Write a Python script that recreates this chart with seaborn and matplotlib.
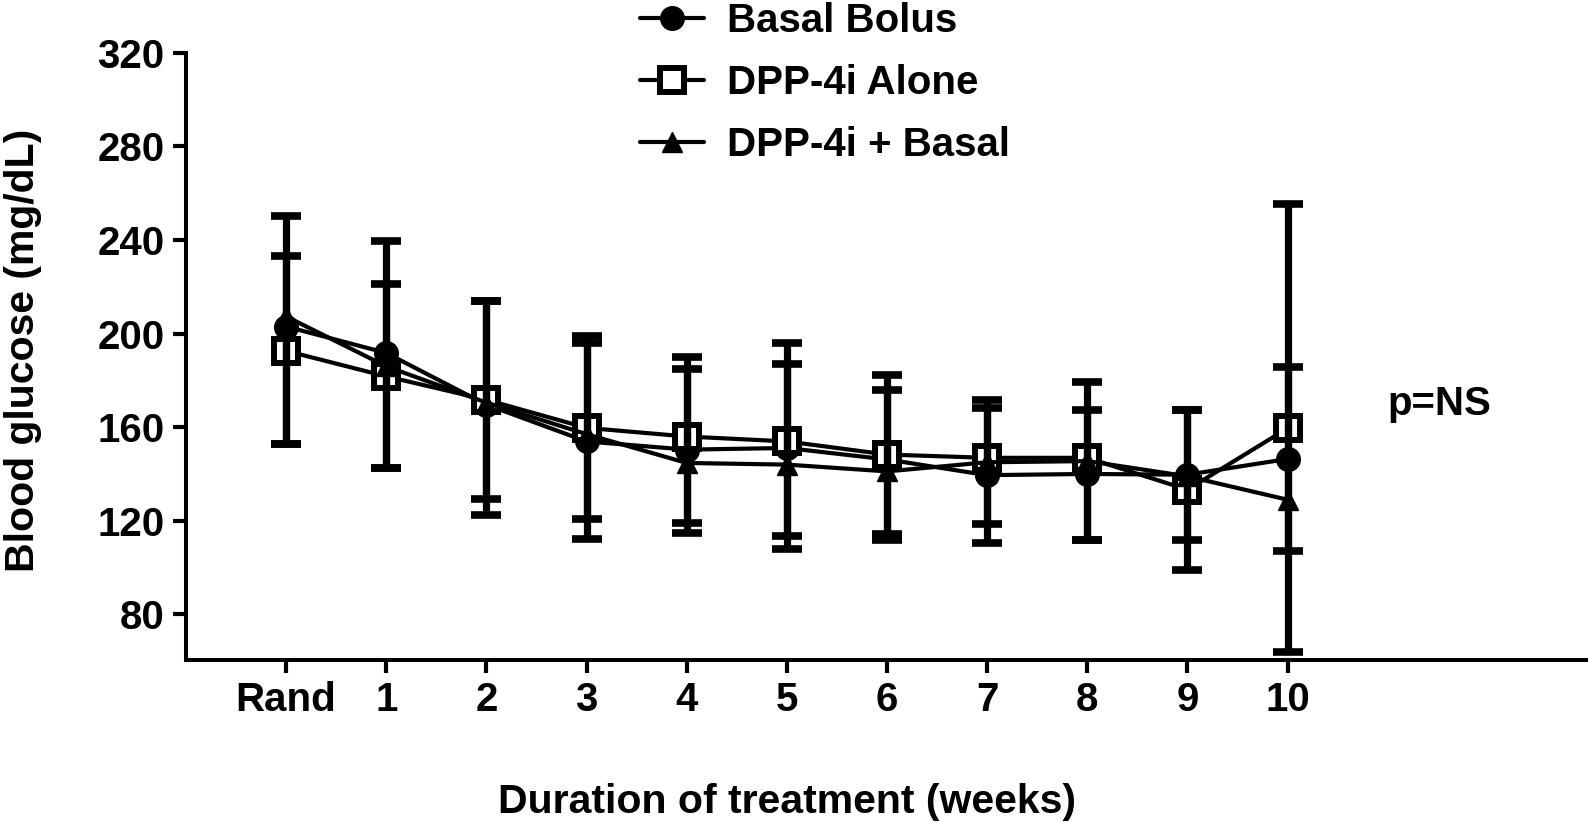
import numpy as np
import pandas as pd
import matplotlib
matplotlib.use("Agg")
import matplotlib.pyplot as plt
import seaborn as sns

# data
weeks = ["Rand", "1", "2", "3", "4", "5", "6", "7", "8", "9", "10"]
groups = ["Basal Bolus", "DPP-4i Alone", "DPP-4i + Basal"]

basal_bolus = [203.0, 191.7, 169.6, 153.9, 150.4, 151.1, 146.2, 139.5, 140.0, 139.7, 146.4]
dpp4_alone = [192.6, 181.7, 171.7, 159.7, 156.0, 153.9, 148.3, 146.9, 146.9, 133.3, 159.5]
dpp4_basal = [207.3, 186.0, 170.5, 157.0, 144.7, 144.0, 141.1, 145.0, 145.5, 139.0, 129.0]

# error bar ends (upper / lower)
bb_upper = [250.4, 239.7, 214.0, 195.9, 184.8, 187.1, 176.0, 168.2, 167.4, 167.4, 185.9]
bb_lower = [152.9, 142.5, 122.3, 112.1, 114.8, 113.3, 114.5, 110.4, 111.6, 111.6, 106.9]
da_upper = [233.2, 221.2, 214.0, 199.0, 189.8, 195.9, 182.1, 171.7, 179.3, 167.4, 255.3]
da_lower = [152.9, 142.5, 129.4, 120.6, 119.1, 107.9, 111.6, 118.6, 111.6, 98.8, 63.8]

y_ticks = [80, 120, 160, 200, 240, 280, 320]

sns.set_style("ticks")
plt.rcParams["font.family"] = ["Liberation Sans", "DejaVu Sans"]
plt.rcParams["font.weight"] = "bold"
for key in ["text.color", "axes.labelcolor", "xtick.color", "ytick.color", "axes.edgecolor"]:
    plt.rcParams[key] = "black"

pos = np.arange(len(weeks))
df = pd.DataFrame({
    "pos": np.tile(pos, 3),
    "glucose": basal_bolus + dpp4_alone + dpp4_basal,
    "group": np.repeat(groups, len(weeks)),
})

fig = plt.figure(figsize=(15.88, 8.23), dpi=100)
ax = fig.add_axes([0.1171, 0.198, 0.8829, 0.738])

styles = {
    "Basal Bolus": dict(marker="o", markersize=17, markerfacecolor="black", markeredgewidth=1),
    "DPP-4i Alone": dict(marker="s", markersize=17.5, markerfacecolor="white", markeredgewidth=4.3),
    "DPP-4i + Basal": dict(marker="^", markersize=15, markerfacecolor="black", markeredgewidth=1),
}
for g in groups:
    sns.lineplot(data=df[df["group"] == g], x="pos", y="glucose", ax=ax,
                 color="black", linewidth=3, label=g, markeredgecolor="black",
                 zorder=3, **styles[g])

# error bars drawn over the markers, like the original
for mean, up, lo in [(basal_bolus, bb_upper, bb_lower), (dpp4_alone, da_upper, da_lower)]:
    mean = np.array(mean)
    yerr = [mean - np.array(lo), np.array(up) - mean]
    ax.errorbar(pos, mean, yerr=yerr, fmt="none", ecolor="black",
                elinewidth=5.2, capsize=10.8, capthick=5.5, zorder=4)

ax.set_xlim(-1, 13)
ax.set_ylim(60.5, 320)
ax.set_xticks(pos)
ax.set_xticklabels(weeks)
ax.set_yticks(y_ticks)
ax.tick_params(axis="both", labelsize=29, length=9.4, width=3, direction="out", pad=6,
               colors="black")
for lab in ax.get_xticklabels() + ax.get_yticklabels():
    lab.set_fontweight("bold")

for side in ["top", "right"]:
    ax.spines[side].set_visible(False)
for side in ["left", "bottom"]:
    ax.spines[side].set_linewidth(2.9)

ax.set_xlabel("Duration of treatment (weeks)", fontsize=29.5, fontweight="bold")
ax.set_ylabel("Blood glucose (mg/dL)", fontsize=29.5, fontweight="bold")
ax.xaxis.set_label_coords(6 / 14, -0.203)
ax.yaxis.set_label_coords(-0.103, 0.51)

ax.text(11, 170, "p=NS", fontsize=29, fontweight="bold", ha="left", va="center")

ax.legend(loc="upper left", bbox_to_anchor=(0.403, 0.998), bbox_transform=fig.transFigure,
          frameon=False, fontsize=29, handlelength=1.6, handletextpad=0.55,
          labelspacing=0.6, borderpad=0, borderaxespad=0)

fig.savefig("out.png", dpi=100)
plt.close()
